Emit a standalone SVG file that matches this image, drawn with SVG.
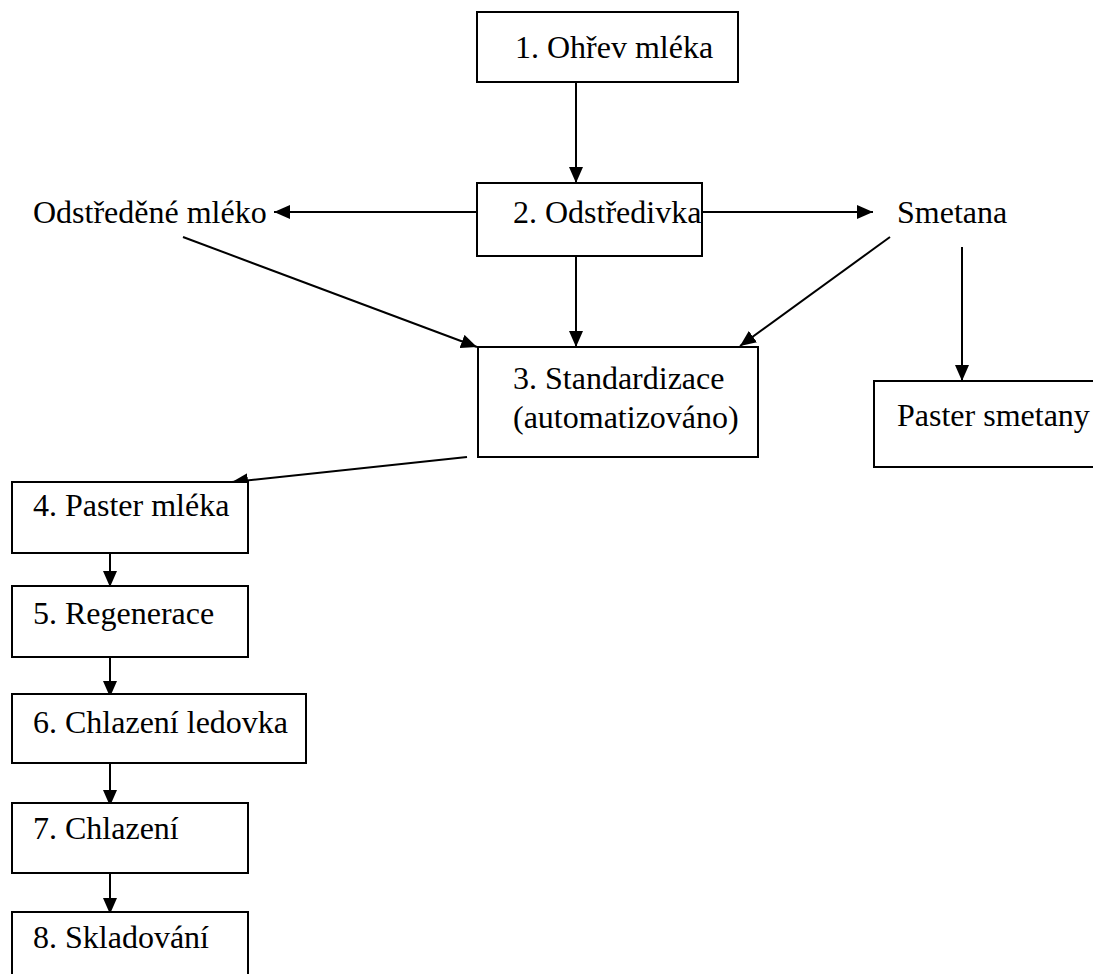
<svg xmlns="http://www.w3.org/2000/svg" width="1093" height="974" viewBox="0 0 1093 974">
<defs>
<style>
.box{fill:#fff;stroke:#000;stroke-width:2}
.c{stroke:#000;stroke-width:2;fill:none;marker-end:url(#ah)}
text{font-family:'Liberation Serif',Tinos,'Times New Roman',Times,'Nimbus Roman','Noto Serif','DejaVu Serif',serif;font-size:32px;fill:#000}
</style>
<marker id="ah" markerUnits="userSpaceOnUse" markerWidth="16" markerHeight="14" refX="16" refY="7" orient="auto">
<path d="M0,0 L16,7 L0,14 z" fill="#000"/>
</marker>
</defs>
<rect width="1093" height="974" fill="#fff"/>
<g id="connectors">
<line class="c" x1="576" y1="82" x2="576" y2="183"/>
<line class="c" x1="477" y1="212" x2="274" y2="212"/>
<line class="c" x1="702" y1="212" x2="873" y2="212"/>
<line class="c" x1="183" y1="237" x2="477" y2="347"/>
<line class="c" x1="576" y1="256" x2="576" y2="347"/>
<line class="c" x1="890" y1="237" x2="740" y2="346"/>
<line class="c" x1="962" y1="247" x2="962" y2="381"/>
<line class="c" x1="467" y1="457" x2="232" y2="482"/>
<line class="c" x1="110" y1="553" x2="110" y2="587"/>
<line class="c" x1="110" y1="657" x2="110" y2="697"/>
<line class="c" x1="110" y1="763" x2="110" y2="806"/>
<line class="c" x1="110" y1="873" x2="110" y2="914"/>
</g>
<g id="n1"><rect class="box" x="477" y="12" width="261" height="70"/><text x="515" y="58">1. Ohřev mléka</text></g>
<g id="n2"><rect class="box" x="477" y="183" width="225" height="73"/><text x="513" y="223">2. Odstředivka</text></g>
<g id="n_odst"><text x="33" y="223">Odstředěné mléko</text></g>
<g id="n_smet"><text x="897" y="223">Smetana</text></g>
<g id="n3"><rect class="box" x="478" y="347" width="280" height="110"/><text x="513" y="389">3. Standardizace</text><text x="513" y="428">(automatizováno)</text></g>
<g id="n_paster_smet"><rect class="box" x="874" y="381" width="240" height="86"/><text x="897" y="426">Paster smetany</text></g>
<g id="n4"><rect class="box" x="12" y="482" width="236" height="71"/><text x="33" y="516">4. Paster mléka</text></g>
<g id="n5"><rect class="box" x="12" y="586" width="236" height="71"/><text x="33" y="624">5. Regenerace</text></g>
<g id="n6"><rect class="box" x="12" y="694" width="294" height="69"/><text x="33" y="733">6. Chlazení ledovka</text></g>
<g id="n7"><rect class="box" x="12" y="803" width="236" height="70"/><text x="33" y="839">7. Chlazení</text></g>
<g id="n8"><rect class="box" x="12" y="912" width="236" height="80"/><text x="33" y="948">8. Skladování</text></g>
</svg>
